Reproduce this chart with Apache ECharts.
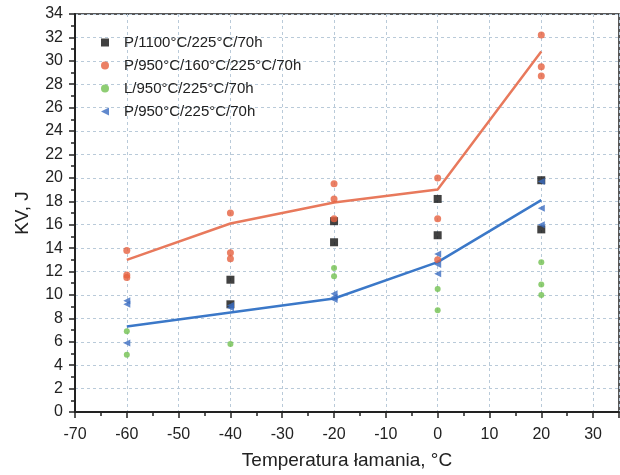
<!DOCTYPE html>
<html>
<head>
<meta charset="utf-8">
<script src="https://cdn.jsdelivr.net/npm/echarts@6/dist/echarts.min.js"></script>
<style>
  html, body { margin: 0; padding: 0; background: #fff; }
  #chart { width: 620px; height: 475px; }
</style>
</head>
<body>
<div id="chart"></div>
<script>
const blackX = [-40, -40, -20, -20, 0, 0, 20, 20];
const blackY = [11.3, 9.2, 16.3, 14.5, 18.2, 15.1, 19.8, 15.6];

const redX = [-60, -60, -60, -40, -40, -40, -20, -20, -20, 0, 0, 0, 20, 20, 20];
const redY = [13.8, 11.7, 11.5, 17.0, 13.6, 13.1, 19.5, 18.2, 16.5, 20.0, 16.5, 13.0, 32.2, 29.5, 28.7];

const greenX = [-60, -60, -40, -20, -20, 0, 0, 20, 20, 20];
const greenY = [6.9, 4.9, 5.8, 12.3, 11.6, 10.5, 8.7, 12.8, 10.9, 10.0];

const blueX = [-60, -60, -60, -40, -40, -20, -20, -20, 0, 0, 0, 20, 20, 20];
const blueY = [9.5, 9.2, 5.9, 9.1, 8.9, 10.1, 9.8, 9.6, 13.5, 12.6, 11.8, 19.7, 17.4, 16.0];

// mean lines
const lineX = [-60, -40, -20, 0, 20];
const redLine = [13.0, 16.1, 17.9, 19.0, 30.8];
const blueLine = [7.3, 8.5, 9.7, 12.8, 18.1];

const names = [
  "P/1100°C/225°C/70h",
  "P/950°C/160°C/225°C/70h",
  "L/950°C/225°C/70h",
  "P/950°C/225°C/70h",
];

function pairs(xs, ys) {
  return xs.map((x, i) => [x, ys[i]]);
}

const chart = echarts.init(document.getElementById("chart"));
const font = "Liberation Sans, Arial, sans-serif";
const ink = "#222";
const gridLine = { show: true, lineStyle: { color: "#b9cad9", type: [3, 3], width: 1 } };
const leftTriangle = "path://M10,0 L0,5 L10,10 Z";

chart.setOption({
  animation: false,
  backgroundColor: "#fff",
  grid: {
    left: 75, right: 1, top: 14, bottom: 62,
    show: true, borderColor: ink, borderWidth: 1.5, backgroundColor: "#fff",
  },
  legend: {
    data: [
      { name: names[0] },
      { name: names[1] },
      { name: names[2] },
      { name: names[3], icon: leftTriangle },
    ],
    orient: "vertical",
    left: 96, top: 30,
    itemGap: 8, itemWidth: 8, itemHeight: 8,
    textStyle: { fontFamily: font, fontSize: 15, color: ink, padding: [0, 0, 0, 10] },
  },
  xAxis: {
    type: "value",
    min: -70, max: 35, interval: 10,
    name: "Temperatura łamania, °C",
    nameLocation: "middle", nameGap: 39,
    nameTextStyle: { fontFamily: font, fontSize: 19, color: ink },
    axisLine: { onZero: false, lineStyle: { color: ink, width: 2 } },
    axisTick: { length: 6, lineStyle: { color: ink, width: 1.5 } },
    minorTick: { show: true, splitNumber: 2, length: 4, lineStyle: { color: ink, width: 1.5 } },
    axisLabel: {
      fontFamily: font, fontSize: 16, color: ink, margin: 15,
      showMaxLabel: false,
    },
    splitLine: gridLine,
  },
  yAxis: {
    type: "value",
    min: 0, max: 34, interval: 2,
    name: "KV, J",
    nameLocation: "middle", nameGap: 43,
    nameTextStyle: { fontFamily: font, fontSize: 19, color: ink },
    axisLine: { onZero: false, lineStyle: { color: ink, width: 2 } },
    axisTick: { length: 6, lineStyle: { color: ink, width: 1.5 } },
    minorTick: { show: true, splitNumber: 2, length: 4, lineStyle: { color: ink, width: 1.5 } },
    axisLabel: { fontFamily: font, fontSize: 16, color: ink, margin: 12 },
    splitLine: gridLine,
  },
  series: [
    {
      name: "redFit", type: "line", data: pairs(lineX, redLine),
      symbol: "none", lineStyle: { color: "#e8795c", width: 2.5 }, z: 1,
    },
    {
      name: "blueFit", type: "line", data: pairs(lineX, blueLine),
      symbol: "none", lineStyle: { color: "#3b78c8", width: 2.5 }, z: 1,
    },
    {
      name: names[0], type: "scatter", data: pairs(blackX, blackY),
      symbol: "rect", symbolSize: 8, itemStyle: { color: "#111" }, z: 3,
    },
    {
      name: names[1], type: "scatter", data: pairs(redX, redY),
      symbol: "circle", symbolSize: 7, itemStyle: { color: "#e6603e" }, z: 3,
    },
    {
      name: names[2], type: "scatter", data: pairs(greenX, greenY),
      symbol: "circle", symbolSize: 6, itemStyle: { color: "#72c050" }, z: 3,
    },
    {
      name: names[3], type: "scatter", data: pairs(blueX, blueY),
      symbol: leftTriangle, symbolSize: 7, itemStyle: { color: "#3a6cc0" }, z: 3,
    },
  ],
});
</script>
</body>
</html>
